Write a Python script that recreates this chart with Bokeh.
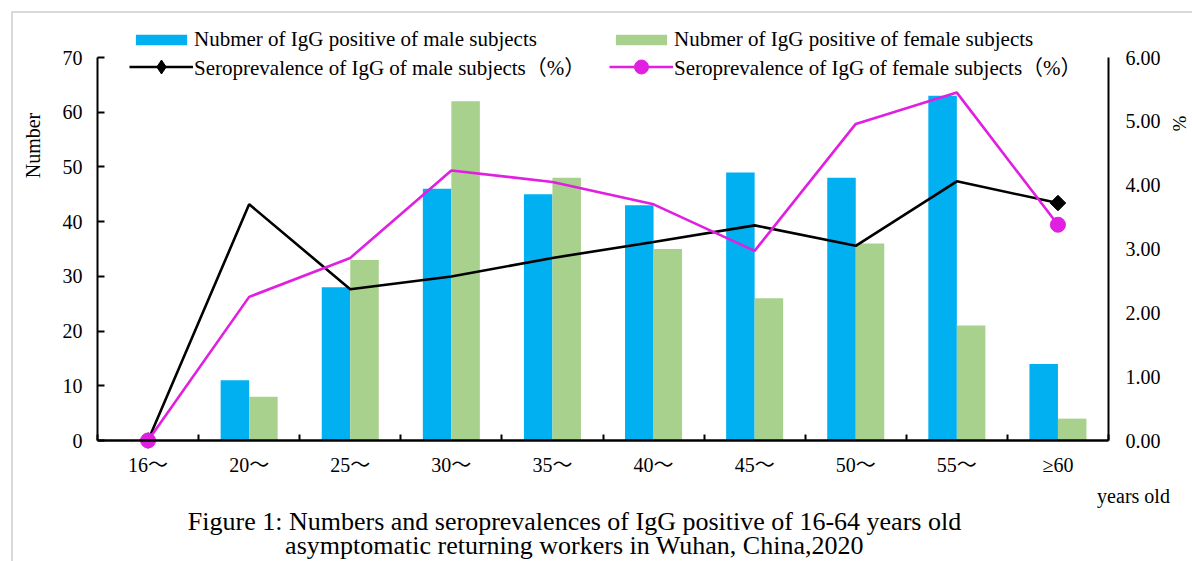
import math
from bokeh.plotting import figure
from bokeh.models import (Range1d, LinearAxis, FixedTicker, NumeralTickFormatter,
                          Label, Legend, LegendItem, ColumnDataSource)
from bokeh.transform import dodge
from bokeh.embed import file_html
from bokeh.resources import INLINE

# ---------------- data ----------------
categories = ["16～", "20～", "25～", "30～", "35～", "40～", "45～", "50～", "55～", "≥60"]
male_count = [0, 11, 28, 46, 45, 43, 49, 48, 63, 14]
female_count = [0, 8, 33, 62, 48, 35, 26, 36, 21, 4]
male_pct = [0.00, 3.70, 2.37, 2.57, 2.86, 3.11, 3.37, 3.05, 4.06, 3.72]
female_pct = [0.00, 2.25, 2.86, 4.23, 4.05, 3.70, 2.97, 4.96, 5.45, 3.38]
left_ticks = [0, 10, 20, 30, 40, 50, 60, 70]
right_ticks = [0, 1, 2, 3, 4, 5, 6]
series_names = ["Nubmer of IgG positive of male subjects",
                "Nubmer of IgG positive of female subjects",
                "Seroprevalence of IgG of male subjects（%）",
                "Seroprevalence of IgG of female subjects（%）"]
caption = ["Figure 1: Numbers and seroprevalences of IgG positive of 16-64 years old",
           "asymptomatic returning workers in Wuhan, China,2020"]

# ---------------- layout / style ----------------
FONT = "Liberation Serif"
FONT_CJK = "'Liberation Serif', 'Noto Sans CJK SC'"
BLUE = "#00B0F0"
GREEN = "#A9D18E"
MAGENTA = "#E01FE0"
W, H = 1192, 561
PL, PR, PT, PB = 97, 1108, 57, 440      # plotting area in canvas pixels
n = len(categories)
xs = list(range(n))
Y_MAX = left_ticks[-1]
P_MAX = right_ticks[-1]

x_per_px = n / (PR - PL)
y_per_px = Y_MAX / (PB - PT)
p_per_px = P_MAX / (PB - PT)
x_start = -0.5 - PL * x_per_px
x_end = -0.5 + (W - PL) * x_per_px


def px_x(cx):
    return x_start + cx * x_per_px


def px_y(cy):
    return (PB - cy) * y_per_px


p = figure(width=W, height=H, output_backend="svg", toolbar_location=None, title=None,
           x_range=Range1d(x_start, x_end),
           y_range=Range1d(-(H - PB) * y_per_px, PB * y_per_px),
           min_border=0)
p.extra_y_ranges = {"pct": Range1d(-(H - PB) * p_per_px, PB * p_per_px)}
p.xgrid.visible = False
p.ygrid.visible = False
p.outline_line_color = None
p.border_fill_color = None
p.background_fill_color = None
p.styles = {"box-shadow": "inset 11px 11px 0 0 #ffffff, inset 13px 13px 0 0 #d9d9d9"}

# x axis (drawn at y = 0)
xa = p.xaxis[0]
xa.fixed_location = 0
xa.bounds = (-0.5, n - 0.5)
xa.ticker = FixedTicker(ticks=xs, minor_ticks=[i - 0.5 for i in range(n + 1)])
xa.major_label_overrides = {i: c for i, c in enumerate(categories)}
xa.major_tick_in = 0
xa.major_tick_out = 0
xa.minor_tick_in = 6
xa.minor_tick_out = 0
xa.minor_tick_line_color = "black"
xa.minor_tick_line_width = 2
xa.axis_line_color = "black"
xa.axis_line_width = 2.5
xa.major_label_standoff = 13
xa.major_label_text_font = FONT_CJK
xa.major_label_text_font_size = "20px"
xa.major_label_text_color = "black"

# left axis
ya = p.yaxis[0]
ya.fixed_location = -0.5
ya.bounds = (0, Y_MAX)
ya.ticker = FixedTicker(ticks=left_ticks)
ya.major_tick_in = 7
ya.major_tick_out = 0
ya.major_tick_line_width = 2
ya.major_tick_line_color = "black"
ya.minor_tick_line_color = None
ya.axis_line_color = "black"
ya.axis_line_width = 2
ya.major_label_standoff = 15
ya.major_label_text_font = FONT
ya.major_label_text_font_size = "20px"
ya.major_label_text_color = "black"

# right axis
ra = LinearAxis(y_range_name="pct", ticker=FixedTicker(ticks=right_ticks),
                formatter=NumeralTickFormatter(format="0.00"))
ra.fixed_location = n - 0.5
ra.bounds = (0, P_MAX)
ra.major_tick_in = 0
ra.major_tick_out = 0
ra.minor_tick_line_color = None
ra.axis_line_color = "black"
ra.axis_line_width = 2
ra.major_label_standoff = 17
ra.major_label_text_font = FONT
ra.major_label_text_font_size = "20px"
ra.major_label_text_color = "black"
p.add_layout(ra, "right")

# ---------------- marks ----------------
src = ColumnDataSource(dict(x=xs, male=male_count, female=female_count,
                            mpct=male_pct, fpct=female_pct))
ends = [0, n - 1]
src_ends = ColumnDataSource(dict(x=[xs[i] for i in ends],
                                 mpct=[male_pct[i] for i in ends],
                                 fpct=[female_pct[i] for i in ends]))

BW = 0.282
r_m = p.vbar(x=dodge("x", -BW / 2, range=p.x_range), top="male", width=BW, source=src,
             fill_color=BLUE, line_color=None)
r_f = p.vbar(x=dodge("x", BW / 2, range=p.x_range), top="female", width=BW, source=src,
             fill_color=GREEN, line_color=None)
l_m = p.line(x="x", y="mpct", source=src, y_range_name="pct", line_color="black", line_width=2.6)
l_f = p.line(x="x", y="fpct", source=src, y_range_name="pct", line_color=MAGENTA, line_width=2.6)
# diamond key (also used by the legend, which never rotates markers); covered by the
# rotated square end markers below
k_m = p.scatter(x="x", y="mpct", source=src_ends, y_range_name="pct", marker="diamond",
                size=14, fill_color="black", line_color="black")
s_m = p.scatter(x="x", y="mpct", source=src_ends, y_range_name="pct", marker="square",
                angle=math.pi / 4, size=11, fill_color="black", line_color="black")
s_f = p.scatter(x="x", y="fpct", source=src_ends, y_range_name="pct", marker="circle",
                size=15, fill_color=MAGENTA, line_color=MAGENTA)

# ---------------- legends ----------------
def make_legend(items, gh, loc):
    return Legend(items=items, orientation="horizontal", location=loc,
                  glyph_width=64, glyph_height=gh, label_standoff=1, label_width=412,
                  spacing=3, padding=0, margin=0, border_line_color=None,
                  background_fill_alpha=0, label_text_font=FONT_CJK,
                  label_text_font_size="21px", label_text_color="black")


leg_bars = make_legend([LegendItem(label=series_names[0], renderers=[r_m]),
                        LegendItem(label=series_names[1], renderers=[r_f])], 13,
                       (129, H - 52))
leg_lines = make_legend([LegendItem(label=series_names[2], renderers=[l_m, k_m]),
                         LegendItem(label=series_names[3], renderers=[l_f, s_f])], 35,
                        (129, H - 83.5))
p.add_layout(leg_bars, "center")
p.add_layout(leg_lines, "center")

# ---------------- texts ----------------
def lab(text, cx, cy, size, angle=0.0, align="center"):
    p.add_layout(Label(x=px_x(cx), y=px_y(cy), text=text, angle=angle, text_align=align,
                       text_baseline="middle", text_font=FONT, text_font_size=size,
                       text_color="black"))


lab("Number", 32, 145, "20px", angle=math.pi / 2)
lab("%", 1179, 123, "19px", angle=math.pi / 2)
lab("years old", 1133, 495, "20px")
lab(caption[0], 574, 521, "26px")
lab(caption[1], 574, 545, "26px")

open("out.html", "w").write(file_html(p, INLINE))
